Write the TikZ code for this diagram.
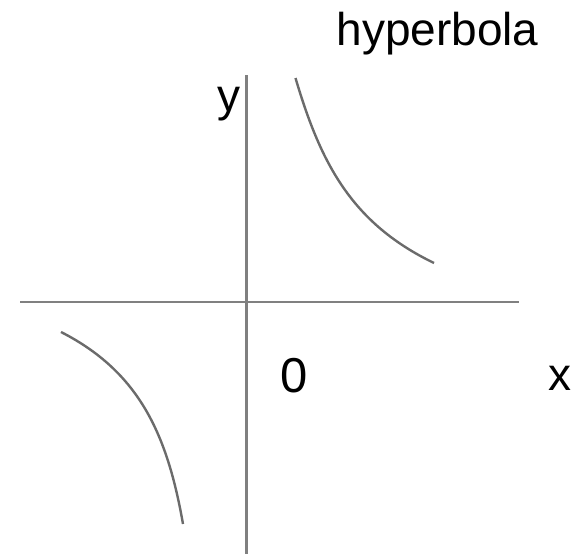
\documentclass[tikz,border=0pt]{standalone}
\usepackage{fontspec}
\setmainfont{Liberation Sans}
\begin{document}
\begin{tikzpicture}[x=1pt,y=-1pt,
  axis/.style={draw=black!50,line width=2.6pt},
  curve/.style={draw=black!58,line width=2.4pt},
  lbl/.style={inner sep=0pt,anchor=base,font=\fontsize{46}{50}\selectfont}]
\useasboundingbox (0,0) rectangle (576,557);
\coordinate (hl) at (20,302);
\coordinate (hr) at (519,302);
\coordinate (vt) at (246.5,75);
\coordinate (vb) at (246.5,554);
\draw[axis] (hl) -- (hr);
\draw[axis] (vt) -- (vb);
\coordinate (u1) at (295.5,78);
\coordinate (u2) at (434,263);
\draw[curve] (u1) to[out=-73.6,in=154.2] (u2);
\coordinate (l1) at (61,332);
\coordinate (l2) at (183,524);
\draw[curve] (l1) to[out=-27,in=100] (l2);
\node[lbl] (title) at (437.5,45) {hyperbola};
\node[lbl] (ylab) at (229,111) {y};
\node[lbl,font=\fontsize{49}{52}\selectfont] (zero) at (294,392) {0};
\node[lbl] (xlab) at (560,390) {x};
\end{tikzpicture}
\end{document}
